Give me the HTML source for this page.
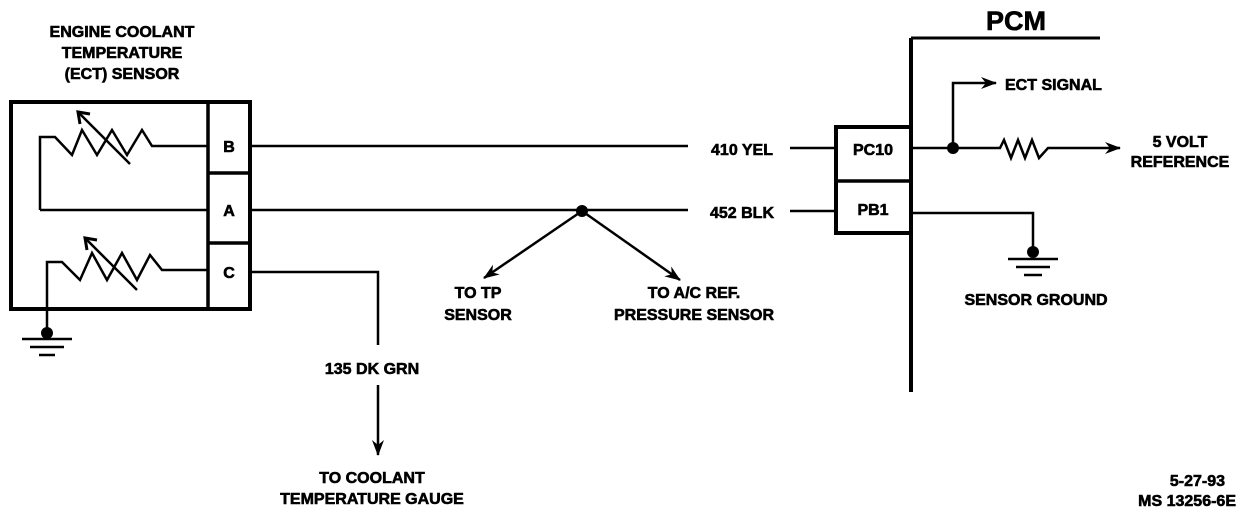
<!DOCTYPE html>
<html><head><style>body{margin:0;background:#fff}svg{display:block}text{font-family:"Liberation Sans",sans-serif;font-weight:bold;font-size:16px;fill:#000;stroke:#000;stroke-width:0.6}</style></head>
<body>
<svg width="1248" height="520" viewBox="0 0 1248 520" xmlns="http://www.w3.org/2000/svg">
<defs><marker id="a" markerWidth="16" markerHeight="12" refX="15" refY="6" orient="auto" markerUnits="userSpaceOnUse"><path d="M0,0 L16,6 L0,12 L5,6 Z" fill="#000"/></marker></defs>
<g stroke="#000" fill="none" stroke-width="2.5">
<rect x="11" y="102" width="239" height="207" stroke-width="4"/>
<line x1="208" y1="102" x2="208" y2="309" stroke-width="3.5"/>
<line x1="208" y1="173" x2="250" y2="173" stroke-width="3.5"/>
<line x1="208" y1="243" x2="250" y2="243" stroke-width="3.5"/>
<polyline points="40,210 40,137 55,137 72,155 82,130 97,155 112,130 127,155 142,130 152,146 208,146"/>
<line x1="78" y1="112" x2="130" y2="164"/><polyline points="80,124 78,112 90,114" stroke-width="3"/>
<line x1="40" y1="210" x2="208" y2="210"/>
<polyline points="47,332 47,262 62,262 80,280 92,253 107,280 122,253 137,280 150,255 162,270 208,270"/>
<line x1="85" y1="238" x2="137" y2="290"/><polyline points="87,250 85,238 97,240" stroke-width="3"/>
<line x1="22" y1="339" x2="72" y2="339"/><line x1="30" y1="347" x2="64" y2="347"/><line x1="39" y1="355" x2="55" y2="355"/>
<line x1="250" y1="146" x2="688" y2="146"/>
<line x1="790" y1="148" x2="836" y2="148"/>
<line x1="250" y1="210" x2="688" y2="210"/>
<line x1="790" y1="211" x2="836" y2="211"/>
<polyline points="250,272 378,272 378,345"/>
<line x1="378" y1="385" x2="378" y2="455" marker-end="url(#a)"/>
<line x1="582" y1="211" x2="484" y2="278" marker-end="url(#a)"/>
<line x1="582" y1="211" x2="680" y2="280" marker-end="url(#a)"/>
<line x1="911" y1="38" x2="911" y2="392" stroke-width="4"/>
<line x1="911" y1="38" x2="1100" y2="38" stroke-width="3"/>
<rect x="836" y="127" width="75" height="106" stroke-width="4"/>
<line x1="836" y1="181" x2="911" y2="181" stroke-width="3.5"/>
<polyline points="911,148 1000,148 1004,140 1011,158 1018,140 1025,158 1032,140 1039,158 1048,148 1120,148" marker-end="url(#a)"/>
<polyline points="953,148 953,83 996,83" marker-end="url(#a)"/>
<polyline points="911,213 1033,213 1033,250"/>
<line x1="1008" y1="259" x2="1058" y2="259"/><line x1="1016" y1="267" x2="1050" y2="267"/><line x1="1024" y1="275" x2="1042" y2="275"/>
</g>
<circle cx="582" cy="211" r="6"/><circle cx="953" cy="148" r="6"/><circle cx="1033" cy="252" r="6"/><circle cx="47" cy="333" r="6"/>
<text x="122" y="37" text-anchor="middle">ENGINE COOLANT</text>
<text x="122" y="58" text-anchor="middle">TEMPERATURE</text>
<text x="122" y="79" text-anchor="middle">(ECT) SENSOR</text>
<text x="229" y="152" text-anchor="middle">B</text>
<text x="229" y="216" text-anchor="middle">A</text>
<text x="229" y="278" text-anchor="middle">C</text>
<text x="742" y="155" text-anchor="middle">410 YEL</text>
<text x="742" y="218" text-anchor="middle">452 BLK</text>
<text x="873" y="155" text-anchor="middle">PC10</text>
<text x="873" y="215" text-anchor="middle">PB1</text>
<text x="1016" y="30" style="font-size:27px" text-anchor="middle">PCM</text>
<text x="1005" y="90">ECT SIGNAL</text>
<text x="1180" y="147" text-anchor="middle">5 VOLT</text>
<text x="1180" y="167" text-anchor="middle">REFERENCE</text>
<text x="1036" y="305" text-anchor="middle">SENSOR GROUND</text>
<text x="478" y="298" text-anchor="middle">TO TP</text>
<text x="478" y="320" text-anchor="middle">SENSOR</text>
<text x="694" y="298" text-anchor="middle">TO A/C REF.</text>
<text x="694" y="320" text-anchor="middle">PRESSURE SENSOR</text>
<text x="372" y="374" text-anchor="middle">135 DK GRN</text>
<text x="372" y="483" text-anchor="middle">TO COOLANT</text>
<text x="372" y="504" text-anchor="middle">TEMPERATURE GAUGE</text>
<text x="1225" y="486" text-anchor="end">5-27-93</text>
<text x="1236" y="506" text-anchor="end">MS 13256-6E</text>
</svg>
</body></html>
